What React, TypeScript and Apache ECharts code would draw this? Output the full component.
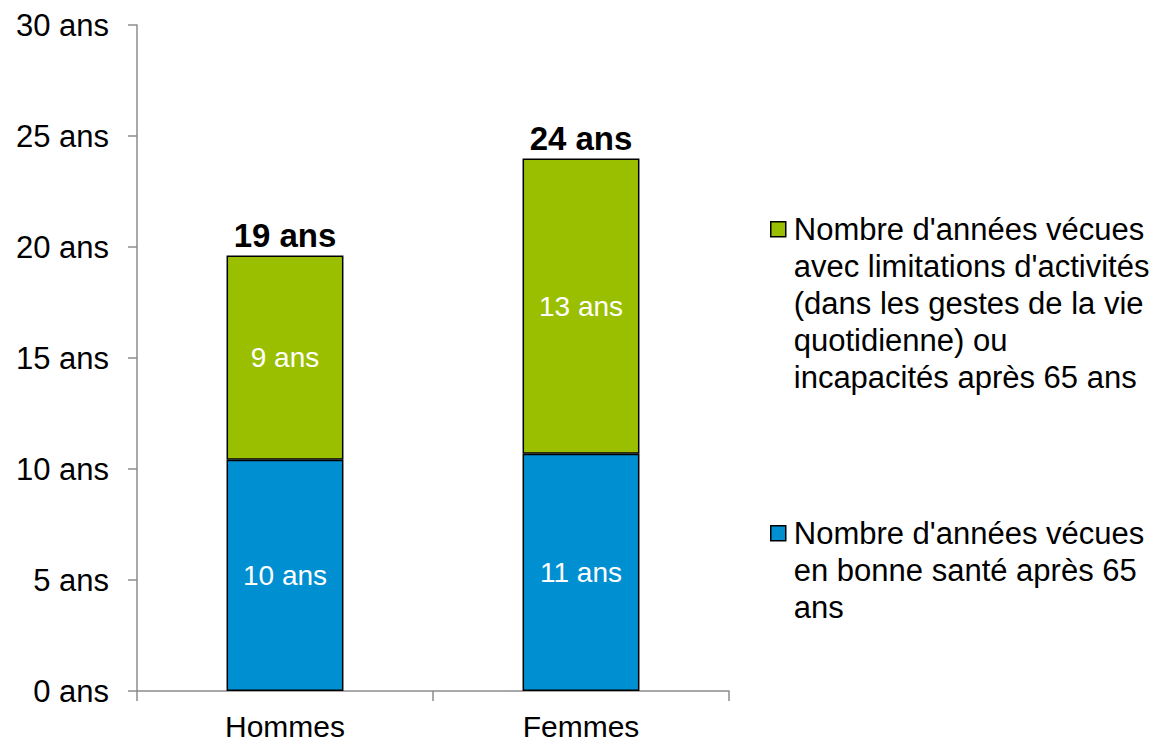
import React, { useEffect, useRef } from "react";
import * as echarts from "echarts";

const categories = ["Hommes", "Femmes"];
const healthyValues = [10.42, 10.69];
const limitedValues = [9.2, 13.3];
const healthyLabels = ["10 ans", "11 ans"];
const limitedLabels = ["9 ans", "13 ans"];
const totalLabels = ["19 ans", "24 ans"];
const limitedName =
  "Nombre d'années vécues\navec limitations d'activités\n(dans les gestes de la vie\nquotidienne) ou\nincapacités après 65 ans";
const healthyName = "Nombre d'années vécues\nen bonne santé après 65\nans";

const FONT = "'Liberation Sans', Arial, sans-serif";
const LH = 37;

export default function App() {
  const ref = useRef<HTMLDivElement>(null);
  useEffect(() => {
    if (!ref.current) return;
    const chart = echarts.init(ref.current, null, { renderer: "svg" });
    const iconFor = (lines: number) =>
      `path://M3,11h15v15h-15z M0,0h0 M21,${lines * LH}h0`;
    const legendCommon = {
      orient: "vertical",
      itemWidth: 21,
      itemGap: 4,
      selectedMode: false,
      itemStyle: { borderColor: "#000", borderWidth: 1.5 },
      textStyle: { fontSize: 31, lineHeight: LH, color: "#000", fontFamily: FONT },
    };
    chart.setOption({
      animation: false,
      textStyle: { fontFamily: FONT },
      grid: { left: 137, right: 433, top: 25, bottom: 50, containLabel: false },
      legend: [
        {
          ...legendCommon,
          data: [{ name: limitedName, icon: iconFor(5) }],
          left: 762,
          top: 205,
          itemHeight: 5 * LH,
        },
        {
          ...legendCommon,
          data: [{ name: healthyName, icon: iconFor(3) }],
          left: 762,
          top: 509,
          itemHeight: 3 * LH,
        },
      ],
      xAxis: {
        type: "category",
        data: categories,
        axisLine: { lineStyle: { color: "#8c8c8c", width: 1.5 } },
        axisTick: { show: true, length: 10, lineStyle: { color: "#8c8c8c", width: 1.5 } },
        axisLabel: { fontSize: 30, color: "#000", margin: 20, fontFamily: FONT },
      },
      yAxis: {
        type: "value",
        min: 0,
        max: 30,
        interval: 5,
        splitLine: { show: false },
        axisLine: { show: true, lineStyle: { color: "#8c8c8c", width: 1.5 } },
        axisTick: { show: true, length: 9, lineStyle: { color: "#8c8c8c", width: 1.5 } },
        axisLabel: { fontSize: 31, color: "#000", margin: 28, formatter: (v: number) => `${v} ans`, fontFamily: FONT },
      },
      series: [
        {
          name: healthyName,
          type: "bar",
          stack: "t",
          barWidth: "39.5%",
          data: healthyValues,
          itemStyle: { color: "#0090d2", borderColor: "#000", borderWidth: 1.5 },
          label: {
            show: true,
            position: "inside",
            color: "#fff",
            fontSize: 28,
            fontFamily: FONT,
            formatter: (p: any) => healthyLabels[p.dataIndex],
          },
        },
        {
          name: limitedName,
          type: "bar",
          stack: "t",
          barWidth: "39.5%",
          data: limitedValues,
          itemStyle: { color: "#99bf00", borderColor: "#000", borderWidth: 1.5 },
          label: {
            show: true,
            position: "inside",
            color: "#fff",
            fontSize: 28,
            fontFamily: FONT,
            formatter: (p: any) => limitedLabels[p.dataIndex],
          },
        },
        {
          name: "total",
          type: "bar",
          stack: "t",
          barWidth: "39.5%",
          data: [0, 0],
          itemStyle: { color: "transparent" },
          label: {
            show: true,
            position: "top",
            distance: 3,
            color: "#000",
            fontSize: 33,
            fontWeight: "bold",
            fontFamily: FONT,
            formatter: (p: any) => totalLabels[p.dataIndex],
          },
        },
      ],
    });
    return () => chart.dispose();
  }, []);
  return <div ref={ref} style={{ width: 1162, height: 741, position: "absolute", left: 0, top: 0 }} />;
}
